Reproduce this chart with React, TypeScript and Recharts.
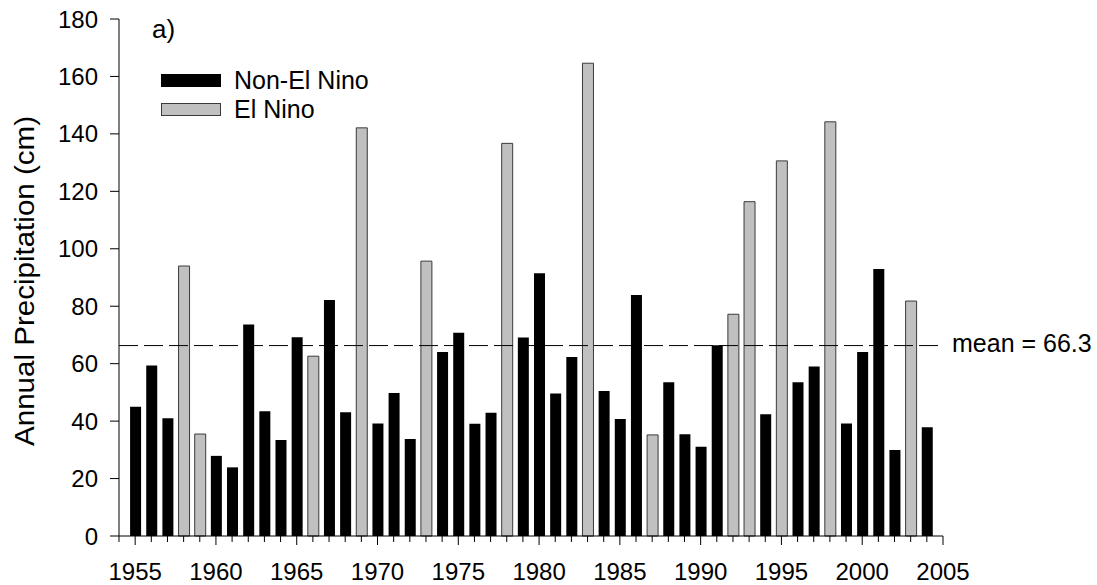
import React from "react";
import { BarChart, Bar, XAxis, YAxis, ReferenceLine, Legend } from "recharts";

// Annual precipitation by year (cm)
const years = [
  1955, 1956, 1957, 1958, 1959, 1960, 1961, 1962, 1963, 1964,
  1965, 1966, 1967, 1968, 1969, 1970, 1971, 1972, 1973, 1974,
  1975, 1976, 1977, 1978, 1979, 1980, 1981, 1982, 1983, 1984,
  1985, 1986, 1987, 1988, 1989, 1990, 1991, 1992, 1993, 1994,
  1995, 1996, 1997, 1998, 1999, 2000, 2001, 2002, 2003, 2004,
];
const precipitation = [
  45.0, 59.4, 41.0, 94.0, 35.5, 27.9, 23.9, 73.6, 43.4, 33.4,
  69.2, 62.6, 82.2, 43.1, 142.1, 39.2, 49.8, 33.8, 95.7, 64.1,
  70.8, 39.1, 42.9, 136.7, 69.1, 91.5, 49.6, 62.3, 164.6, 50.5,
  40.7, 83.9, 35.2, 53.5, 35.4, 31.1, 66.4, 77.2, 116.4, 42.4,
  130.6, 53.5, 59.0, 144.2, 39.2, 64.1, 93.0, 29.9, 81.8, 37.9,
];
const elNinoYears = [1958, 1959, 1966, 1969, 1973, 1978, 1983, 1987, 1992, 1993, 1995, 1998, 2003];
const meanValue = 66.3;

// Axis ticks
const minorTickYears = [1954, ...years, 2005];
const majorTickYears = [1955, 1960, 1965, 1970, 1975, 1980, 1985, 1990, 1995, 2000, 2005];
const yTicks = [0, 20, 40, 60, 80, 100, 120, 140, 160, 180];

// Series
const seriesOrder = ["Non-El Nino", "El Nino"];
const seriesStroke: Record<string, string> = { "Non-El Nino": "#000000", "El Nino": "#3a3a3a" };

const rows = years.map((year, i) => {
  const isElNino = elNinoYears.includes(year);
  return {
    year,
    nonElNino: isElNino ? null : precipitation[i],
    elNino: isElNino ? precipitation[i] : null,
  };
});

const FONT = '"Liberation Sans", Arial, Helvetica, sans-serif';

const XTick = (props: any) => {
  const { x, y, payload } = props;
  const major = majorTickYears.includes(payload.value);
  return (
    <g>
      <line x1={x} x2={x} y1={y} y2={y + (major ? 9 : 6)} stroke="#000" strokeWidth={1} />
      {major && (
        <text x={x} y={y + 44} textAnchor="middle" fontSize={24} fill="#000" fontFamily={FONT}>
          {payload.value}
        </text>
      )}
    </g>
  );
};

const YLabel = (props: any) => {
  const vb = props.viewBox || { x: 118, y: 19, width: 1, height: 517 };
  const cx = vb.x + vb.width - 85;
  const cy = vb.y + vb.height / 2 + 3.5;
  return (
    <text
      x={cx}
      y={cy}
      transform={`rotate(-90, ${cx}, ${cy})`}
      textAnchor="middle"
      fontSize={27}
      fill="#000"
      fontFamily={FONT}
      textLength={330}
      lengthAdjust="spacingAndGlyphs"
    >
      Annual Precipitation (cm)
    </text>
  );
};

const MeanLabel = (props: any) => {
  const vb = props.viewBox || { x: 119, y: 345, width: 824 };
  return (
    <text x={vb.x + vb.width + 9} y={vb.y + 6} fontSize={25} fill="#000" fontFamily={FONT}>
      {`mean = ${meanValue}`}
    </text>
  );
};

const LegendContent = (props: any) => {
  const items = [...(props.payload || [])].sort(
    (a: any, b: any) => seriesOrder.indexOf(a.value) - seriesOrder.indexOf(b.value)
  );
  return (
    <svg width={240} height={50} style={{ display: "block", overflow: "visible" }}>
      {items.map((entry: any, i: number) => (
        <g key={entry.value}>
          <rect
            x={0.5}
            y={i * 29 + 0.5}
            width={59}
            height={12}
            fill={entry.color}
            stroke={seriesStroke[entry.value]}
            strokeWidth={1}
          />
          <text x={73} y={i * 29 + 14.5} fontSize={25} fill="#000" fontFamily={FONT}>
            {entry.value}
          </text>
        </g>
      ))}
    </svg>
  );
};

export default function App() {
  return (
    <div style={{ position: "relative", width: 1097, height: 585, background: "#fff" }}>
      <style>{`body{margin:0;background:#fff;}`}</style>
      <BarChart
        width={1097}
        height={585}
        data={rows}
        margin={{ top: 19, right: 154, bottom: 48, left: 118 }}
        style={{ fontFamily: FONT }}
      >
        <XAxis
          dataKey="year"
          type="number"
          domain={[1954, 2005]}
          ticks={minorTickYears}
          interval={0}
          height={1}
          tickSize={0}
          tickMargin={0}
          tickLine={false}
          axisLine={{ stroke: "#000", strokeWidth: 1 }}
          tick={<XTick />}
        />
        <YAxis
          type="number"
          domain={[0, 180]}
          ticks={yTicks}
          interval={0}
          width={1}
          tickSize={9}
          tickMargin={12}
          axisLine={{ stroke: "#000", strokeWidth: 1 }}
          tickLine={{ stroke: "#000", strokeWidth: 1 }}
          tick={{ fill: "#000", fontSize: 24, fontFamily: FONT }}
          label={{ content: <YLabel /> }}
        />
        <Legend
          layout="horizontal"
          align="center"
          verticalAlign="middle"
          content={<LegendContent />}
          wrapperStyle={{ position: "absolute", left: 161, top: 74, width: 240, height: 50 }}
        />
        <Bar
          dataKey="nonElNino"
          name="Non-El Nino"
          stackId="p"
          barSize={11}
          fill="#000000"
          isAnimationActive={false}
        />
        <Bar
          dataKey="elNino"
          name="El Nino"
          stackId="p"
          barSize={11}
          fill="#c0c0c0"
          stroke="#3a3a3a"
          strokeWidth={1}
          isAnimationActive={false}
        />
        <ReferenceLine
          y={meanValue}
          stroke="#000"
          strokeWidth={1}
          strokeDasharray="19 6"
          label={{ content: <MeanLabel /> }}
        />
      </BarChart>
      <div
        style={{
          position: "absolute",
          left: 152,
          top: 16,
          fontFamily: FONT,
          fontSize: 26,
          lineHeight: "26px",
          color: "#000",
        }}
      >
        a)
      </div>
    </div>
  );
}
